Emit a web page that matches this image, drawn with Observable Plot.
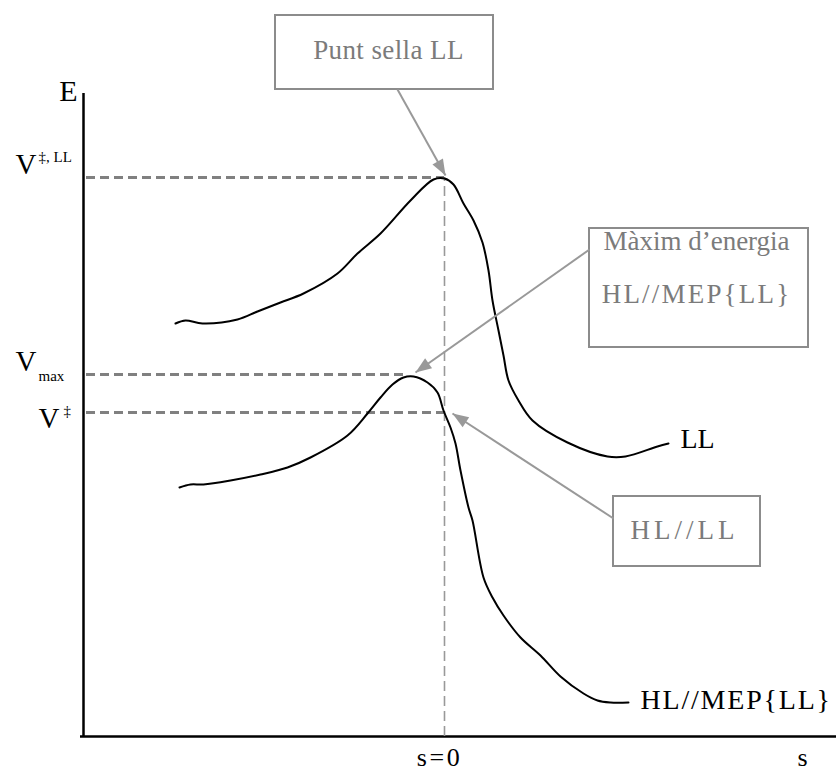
<!DOCTYPE html>
<html>
<head>
<meta charset="utf-8">
<script src="https://cdn.jsdelivr.net/npm/d3@7"></script>
<script src="https://cdn.jsdelivr.net/npm/@observablehq/plot@0.6"></script>
<style>
  html, body { margin: 0; padding: 0; background: #fff; }
  svg { display: block; }
</style>
</head>
<body>
<div id="chart"></div>
<script>
// Reaction coordinate s (s = 0 at the LL saddle point) and energy E, arbitrary units
const llCurve = [
  [-26.9,41.3],[-25.9,41.6],[-24.2,41.3],[-20.7,41.7],[-18.7,42.5],[-16.4,43.4],
  [-14.1,44.3],[-10.7,46.3],[-8.7,48.3],[-6.4,50.3],[-3.4,53.6],[-1.1,55.7],
  [0,55.8],[0.9,55.2],[1.9,53.3],[2.9,51.6],[3.8,49.4],[4.4,46.6],[4.8,43.6],
  [5.4,40.6],[5.9,38.1],[6.4,35.6],[7.4,33.6],[8.8,31.6],[12.3,29.4],[16.3,28.0],
  [18.1,28.0],[21.3,29.0],[22.4,29.3]
];
const hlCurve = [
  [-26.5,24.9],[-25.4,25.2],[-24.1,25.2],[-21.4,25.6],[-18.4,26.2],[-15.7,26.9],
  [-13.4,27.9],[-9.7,30.1],[-7.7,32.3],[-6.4,33.9],[-5.2,35.2],[-4.1,35.9],
  [-3.1,36.0],[-1.7,35.4],[-0.7,34.4],[-0.1,32.6],[0.6,30.9],[1.1,29.3],
  [1.6,26.6],[2.4,22.9],[2.8,21.6],[3.9,15.9],[4.8,13.9],[5.9,12.1],[7.6,9.9],
  [9.6,8.1],[11.6,6.0],[13.9,4.3],[15.3,3.6],[16.6,3.4],[18.4,3.4]
];
// Energy levels
const levelNames = ["V‡,LL", "Vmax", "V‡"];
const levelE = [55.9, 36.2, 32.4];
const levelEndS = [0, -3.9, 0];
// Axes extent
const axisS = [-36.1, 39.2];
const axisE = [0, 64.3];
// Annotation boxes: [s1, s2, E1, E2]
const boxes = [
  [-16.9, 4.9, 64.7, 72.1],
  [14.5, 36.4, 38.9, 50.8],
  [16.9, 31.6, 17.0, 24.0]
];
// Box texts: [label, s, E]
const boxTexts = [
  ["Punt sella LL", -5.6, 67.8],
  ["Màxim d’energia", 25.2, 48.7],
  ["HL//MEP{LL}", 25.2, 43.4],
  ["HL//LL", 24.0, 19.8]
];
// Arrows: [s1, E1, s2, E2]
const arrows = [
  [-4.7, 64.7, 0.1, 56.1],
  [14.5, 48.7, -2.9, 36.4],
  [16.9, 21.8, 0.8, 32.3]
];
// Curve labels: [label, s, E]
const curveLabels = [
  ["LL", 23.6, 28.9],
  ["HL//MEP{LL}", 19.6, 2.8]
];
// Axis labels: [label, s, E, anchor, size]
const axisLabels = [
  ["E", -36.7, 63.6, "end", 30],
  ["s=0", -0.5, -2.9, "middle", 26],
  ["s", 35.8, -2.9, "middle", 26]
];
// Level labels (big V and small super/subscripts)
const levelBig = [["V", -42.9, 56.3], ["V", -42.9, 36.6], ["V", -40.6, 30.9]];
const levelSmall = [["‡, LL", -40.6, 57.5], ["max", -40.6, 35.6], ["‡", -38.1, 32.1]];

const levelRows = levelNames.map((n, i) => ({name: n, E: levelE[i], s2: levelEndS[i]}));

function filledHead(color) {
  const m = d3.create("svg:marker")
    .attr("viewBox", "-16 -6 16 12")
    .attr("markerWidth", 16)
    .attr("markerHeight", 12)
    .attr("markerUnits", "userSpaceOnUse")
    .attr("orient", "auto")
    .attr("overflow", "visible")
    .attr("fill", color)
    .attr("stroke", "none");
  m.append("path").attr("d", "M-16,-6L0,0L-16,6Z");
  return m.node();
}

const serif = "'Liberation Serif', 'Times New Roman', serif";
const boxGray = "#7b7b7b";

const chart = Plot.plot({
  width: 836,
  height: 774,
  margin: 0,
  x: {domain: [-44.4, 39.2], range: [0, 836], axis: null},
  y: {domain: [-3.8, 73.6], range: [774, 0], axis: null},
  marks: [
    // axes
    Plot.ruleX([axisS[0]], {y1: axisE[0] - 0.1, y2: axisE[1], stroke: "black", strokeWidth: 2.5}),
    Plot.ruleY([axisE[0]], {x1: axisS[0] - 0.3, x2: axisS[1] + 5, stroke: "black", strokeWidth: 2.5}),
    // dashed energy levels
    Plot.ruleY(levelRows, {y: "E", x1: -35.8, x2: "s2", stroke: "#808080", strokeWidth: 2.8, strokeDasharray: "9,5"}),
    // vertical dashed at s = 0
    Plot.ruleX([0], {y1: axisE[0], y2: levelE[0], stroke: "#999", strokeWidth: 1.6, strokeDasharray: "10,5"}),
    // curves
    Plot.line(llCurve, {x: d => d[0], y: d => d[1], stroke: "black", strokeWidth: 2, curve: "catmull-rom"}),
    Plot.line(hlCurve, {x: d => d[0], y: d => d[1], stroke: "black", strokeWidth: 2, curve: "catmull-rom"}),
    // boxes
    Plot.rect(boxes, {x1: d => d[0], x2: d => d[1], y1: d => d[2], y2: d => d[3], fill: "white", stroke: "#8c8c8c", strokeWidth: 2}),
    // arrows
    Plot.link(arrows, {x1: d => d[0], y1: d => d[1], x2: d => d[2], y2: d => d[3], stroke: "#999", strokeWidth: 2, markerEnd: filledHead}),
    // box texts
    Plot.text(boxTexts, {text: d => d[0], x: d => d[1], y: d => d[2], fill: boxGray, fontFamily: serif, fontSize: 27, textAnchor: "middle", lineAnchor: "bottom"}),
    // curve labels
    Plot.text(curveLabels, {text: d => d[0], x: d => d[1], y: d => d[2], fill: "black", fontFamily: serif, fontSize: 28, textAnchor: "start", lineAnchor: "bottom"}),
    // axis labels
    Plot.text(axisLabels.slice(0, 1), {text: d => d[0], x: d => d[1], y: d => d[2], textAnchor: "end", fill: "black", fontFamily: serif, fontSize: 30, lineAnchor: "bottom"}),
    Plot.text(axisLabels.slice(1), {text: d => d[0], x: d => d[1], y: d => d[2], textAnchor: "middle", fill: "black", fontFamily: serif, fontSize: 26, lineAnchor: "bottom"}),
    // level labels
    Plot.text(levelBig, {text: d => d[0], x: d => d[1], y: d => d[2], fill: "black", fontFamily: serif, fontSize: 29, textAnchor: "start", lineAnchor: "bottom"}),
    Plot.text(levelSmall, {text: d => d[0], x: d => d[1], y: d => d[2], fill: "black", fontFamily: serif, fontSize: 15, textAnchor: "start", lineAnchor: "bottom"})
  ]
});

// letter spacing to mimic the wider original typefaces
const spacing = {"black|HL//MEP{LL}": 1.8, [boxGray + "|HL//MEP{LL}"]: 2.2, [boxGray + "|HL//LL"]: 4, "black|s=0": 2.5, [boxGray + "|Punt sella LL"]: 0.4};
d3.select(chart).selectAll("text").each(function() {
  const g = this.closest("g");
  const fill = this.getAttribute("fill") || (g && g.getAttribute("fill")) || "black";
  const key = fill + "|" + this.textContent;
  if (spacing[key] != null) this.setAttribute("letter-spacing", spacing[key]);
});

document.getElementById("chart").appendChild(chart);
</script>
</body>
</html>
